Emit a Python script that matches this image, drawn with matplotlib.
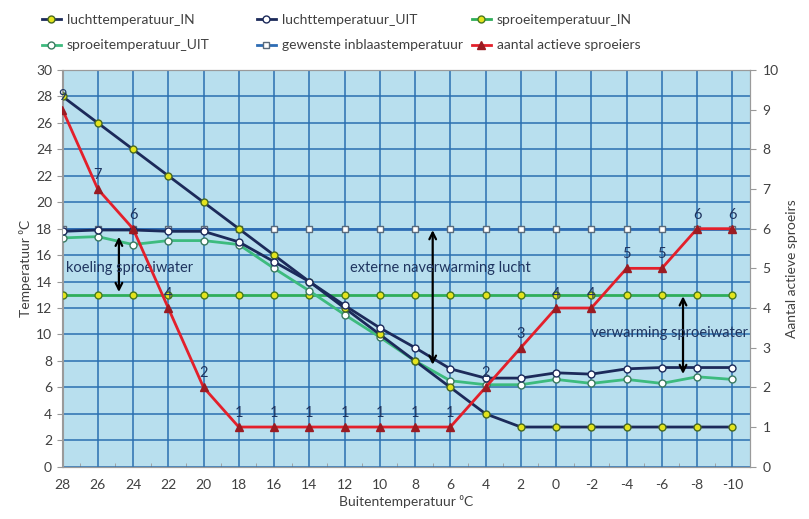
import matplotlib
matplotlib.use('Agg')
import matplotlib.pyplot as plt
import numpy as np

plt.rcParams['font.family'] = ['Lato', 'DejaVu Sans']
plt.rcParams['axes.unicode_minus'] = False

# data
buitentemp = [28, 26, 24, 22, 20, 18, 16, 14, 12, 10, 8, 6, 4, 2, 0, -2, -4, -6, -8, -10]
lucht_in = [28, 26, 24, 22, 20, 18, 16, 14, 12, 10, 8, 6, 4, 3, 3, 3, 3, 3, 3, 3]
lucht_uit = [17.8, 17.9, 17.9, 17.8, 17.8, 17.0, 15.5, 14.0, 12.2, 10.5, 9.0, 7.4, 6.7, 6.7,
             7.1, 7.0, 7.4, 7.5, 7.5, 7.5]
sproei_in = [13] * 20
sproei_uit = [17.3, 17.4, 16.8, 17.1, 17.1, 16.8, 15.0, 13.3, 11.5, 9.8, 8.0, 6.5, 6.2, 6.2,
              6.6, 6.3, 6.6, 6.3, 6.8, 6.6]
gewenst = [18] * 20
sproeiers = [9, 7, 6, 4, 2, 1, 1, 1, 1, 1, 1, 1, 2, 3, 4, 4, 5, 5, 6, 6]

navy = '#1c2a5a'
green = '#2fae5a'
teal = '#3dbb7e'
blue = '#2e6db4'
red = '#e3202b'
yellow = '#e4e41c'
txt = '#404040'
lab = '#1f3560'

fig = plt.figure(figsize=(8.09, 5.19), dpi=100)
ax = fig.add_axes([62.5 / 809, 1 - 466.7 / 519, (750 - 62.5) / 809, (466.7 - 70) / 519])
ax.set_facecolor('#b8dfee')

ax.set_xlim(28, -11)
ax.set_ylim(0, 30)
ax.set_xticks(buitentemp)
ax.set_xticklabels([str(v) for v in buitentemp])
ax.set_xticks(np.arange(27, -11, -2), minor=True)
ax.set_yticks(range(0, 31, 2))
ax.grid(True, which='major', color='#2a6fb0', linewidth=1.1)
ax.set_axisbelow(True)
ax.tick_params(axis='x', which='major', length=0, labelsize=10, colors=txt, pad=9)
ax.tick_params(axis='x', which='minor', length=3, color='#999999', direction='in')
ax.tick_params(axis='y', length=4, color='#999999', labelsize=10, colors=txt)
for s in ax.spines.values():
    s.set_color('#9a9a9a')

h1, = ax.plot(buitentemp, lucht_in, color=navy, lw=2, marker='o', ms=5,
              mfc=yellow, mec='#4a6a20', mew=1, label='luchttemperatuur_IN', zorder=4)
h2, = ax.plot(buitentemp, lucht_uit, color=navy, lw=2, marker='o', ms=5,
              mfc='white', mec=navy, mew=1, label='luchttemperatuur_UIT', zorder=4)
h3, = ax.plot(buitentemp, sproei_in, color=green, lw=2, marker='o', ms=5,
              mfc=yellow, mec='#4a7a20', mew=1, label='sproeitemperatuur_IN', zorder=3)
h4, = ax.plot(buitentemp, sproei_uit, color=teal, lw=2, marker='o', ms=5,
              mfc='white', mec='#3a7a60', mew=1, label='sproeitemperatuur_UIT', zorder=3)
h5, = ax.plot(buitentemp, gewenst, color=blue, lw=2, marker='s', ms=5,
              mfc='white', mec='#5a6a7a', mew=1, label='gewenste inblaastemperatuur', zorder=3)

ax.set_ylabel('Temperatuur \u2070C', fontsize=10, color=txt, labelpad=3)
ax.set_xlabel('Buitentemperatuur \u2070C', fontsize=10, color=txt, labelpad=3)

ax2 = ax.twinx()
ax2.set_ylim(0, 10)
ax2.set_yticks(range(0, 11))
ax2.tick_params(axis='y', length=4, color='#999999', labelsize=10, colors=txt, pad=5)
for s in ax2.spines.values():
    s.set_color('#9a9a9a')
h6, = ax2.plot(buitentemp, sproeiers, color=red, lw=2, marker='^', ms=6,
               mfc='#9b1b22', mec='#9b1b22', label='aantal actieve sproeiers', zorder=5)
for x, y in zip(buitentemp, sproeiers):
    ax2.annotate(str(y), (x, y), xytext=(0, 5), textcoords='offset points',
                 ha='center', va='bottom', fontsize=10.5, color=lab)
ax2.set_ylabel('Aantal actieve sproeirs', fontsize=10, color=txt, labelpad=5)

# arrows and texts
arrow = dict(arrowstyle='<->', color='black', lw=1.6, mutation_scale=12)
ax.annotate('', xy=(24.8, 13), xytext=(24.8, 17.6), arrowprops=arrow, zorder=6)
ax.annotate('', xy=(7.0, 7.5), xytext=(7.0, 18.1), arrowprops=arrow, zorder=6)
ax.annotate('', xy=(-7.2, 6.8), xytext=(-7.2, 13.1), arrowprops=arrow, zorder=6)
ax.text(27.8, 15.0, 'koeling sproeiwater', fontsize=10.5, color=lab, va='center', zorder=6)
ax.text(11.7, 15.0, 'externe naverwarming lucht', fontsize=10.5, color=lab, va='center', zorder=6)
ax.text(-2.0, 10.1, 'verwarming sproeiwater', fontsize=10.5, color=lab, va='center', zorder=6)

# legend in three columns
handles = [h1, h2, h3, h4, h5, h6]
for k, xpos in enumerate([36 / 809, 251 / 809, 466 / 809]):
    fig.legend(handles=[handles[k], handles[k + 3]], loc='upper left',
               bbox_to_anchor=(xpos, 1 - 8 / 519), frameon=False, fontsize=10,
               handlelength=1.4, handletextpad=0.4, labelspacing=1.0,
               labelcolor=txt, borderaxespad=0)

fig.savefig('out.png', dpi=100)
